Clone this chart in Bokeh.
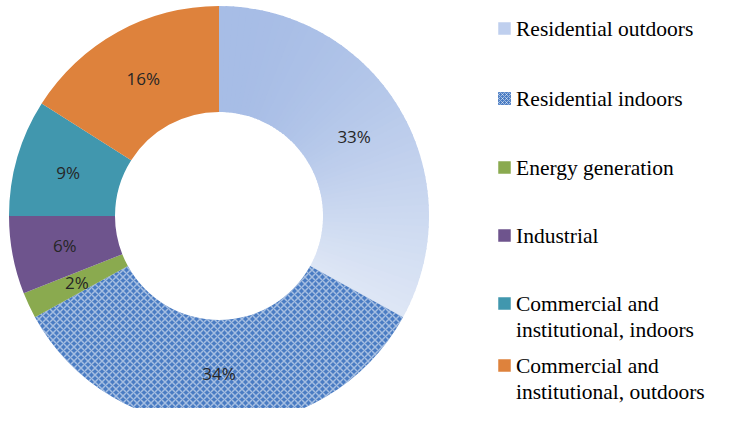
import numpy as np
from bokeh.plotting import figure
from bokeh.models import Range1d
from bokeh.embed import file_html
from bokeh.resources import INLINE
from bokeh.core.properties import value

# ---- data ----
categories = ["Residential outdoors", "Residential indoors", "Energy generation",
              "Industrial", "Commercial and institutional, indoors",
              "Commercial and institutional, outdoors"]
legend_labels = ["Residential outdoors", "Residential indoors", "Energy generation",
                 "Industrial", "Commercial and\ninstitutional, indoors",
                 "Commercial and\ninstitutional, outdoors"]
shares = [33, 34, 2, 6, 9, 16]
pct_labels = ["33%", "34%", "2%", "6%", "9%", "16%"]
colors = ["#B8C9EB", "#4A7CC3", "#8AAA4F", "#6E548D", "#4197AE", "#DE823C"]

# ---- layout (figure pixel coordinates; data y = 424 - pixel y) ----
W, H = 713, 408
PAGE_H = 424
p = figure(width=W, height=H, x_range=Range1d(0, W), y_range=Range1d(PAGE_H - H, PAGE_H),
           output_backend="svg", toolbar_location=None, min_border=0)
p.axis.visible = False
p.grid.visible = False
p.outline_line_color = None
p.background_fill_color = "white"
p.border_fill_color = "white"

cx, cy = 218.5, PAGE_H - 215.5
r_in, r_out = 104.0, 210.0

fr = np.array(shares, dtype=float) / sum(shares)
cum = np.concatenate([[0.0], np.cumsum(fr)])
starts = np.pi / 2 - 2 * np.pi * cum[:-1]
ends = np.pi / 2 - 2 * np.pi * cum[1:]

# slice 0: vertical gradient (top darker -> bottom lighter)
def hex2rgb(h):
    h = h.lstrip("#")
    return np.array([int(h[i:i + 2], 16) for i in (0, 2, 4)], dtype=float)

c_top, c_bot = hex2rgb("#9AB3E2"), hex2rgb("#E4EBF7")
n = 60
a = np.linspace(starts[0], ends[0], n + 1)
y_top = cy + r_out
y_bot = cy + r_out * np.sin(ends[0])
sub_s, sub_e, sub_c = [], [], []
for k in range(n):
    mid = 0.5 * (a[k] + a[k + 1])
    ym = cy + 0.5 * (r_in + r_out) * np.sin(mid)
    t = np.clip((y_top - ym) / (y_top - y_bot), 0, 1)
    c = c_top + (c_bot - c_top) * t
    sub_s.append(a[k] + 0.004 if k > 0 else a[k])
    sub_e.append(a[k + 1] - 0.004 if k < n - 1 else a[k + 1])
    sub_c.append("#%02x%02x%02x" % tuple(int(round(v)) for v in c))
p.annular_wedge(x=cx, y=cy, inner_radius=r_in, outer_radius=r_out,
                start_angle=sub_s, end_angle=sub_e, direction="clock",
                fill_color=sub_c, line_color=None)

# slice 1: hatched
p.annular_wedge(x=cx, y=cy, inner_radius=r_in, outer_radius=r_out,
                start_angle=starts[1], end_angle=ends[1], direction="clock",
                fill_color=colors[1], line_color=None,
                hatch_pattern="diagonal_cross", hatch_color="white",
                hatch_alpha=0.5, hatch_scale=7, hatch_weight=1.5)

# other slices
p.annular_wedge(x=cx, y=cy, inner_radius=r_in, outer_radius=r_out,
                start_angle=list(starts[2:]), end_angle=list(ends[2:]), direction="clock",
                fill_color=colors[2:], line_color=None)

# percentage labels
mids = 0.5 * (starts + ends)
r_lab = 0.5 * (r_in + r_out)
p.text(x=list(cx + r_lab * np.cos(mids)), y=list(cy + r_lab * np.sin(mids)),
       text=pct_labels, text_align="center", text_baseline="middle",
       text_font=value("Open Sans"), text_font_size="17px", text_color="#262626")

# legend (manual)
row_y = [28, 98, 167, 235, 303, 365]
sw_x, sw_size = 504, 12.5
txt_x = 515.5
line_gap = 26
p.rect(x=[sw_x] * 6, y=[PAGE_H - yy for yy in row_y], width=sw_size, height=sw_size,
       fill_color=["#BFCFEE"] + colors[1:], line_color=None)
p.rect(x=[sw_x], y=[PAGE_H - row_y[1]], width=sw_size, height=sw_size,
       fill_color=colors[1], line_color=None, hatch_pattern="diagonal_cross",
       hatch_color="white", hatch_alpha=0.5, hatch_scale=4, hatch_weight=1.0)
tx, ty, tt = [], [], []
for yy, lab in zip(row_y, legend_labels):
    for j, line in enumerate(lab.split("\n")):
        tx.append(txt_x)
        ty.append(PAGE_H - (yy + j * line_gap))
        tt.append(line)
p.text(x=tx, y=ty, text=tt, text_align="left", text_baseline="middle",
       text_font=value("Liberation Serif"), text_font_size="21.5px", text_color="black")

open("out.html", "w").write(file_html(p, INLINE))
